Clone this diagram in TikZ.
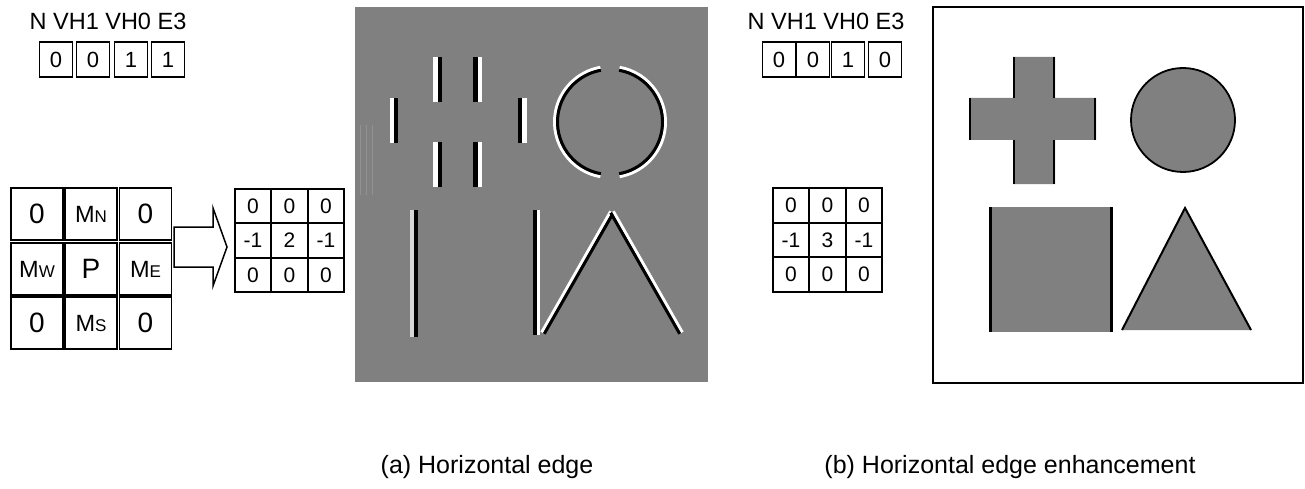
\documentclass[tikz,border=0pt]{standalone}
\usepackage{fontspec}
\setmainfont{Liberation Sans}
\definecolor{imggray}{RGB}{128,128,128}
\definecolor{faintgray}{RGB}{146,146,146}
\definecolor{lightedge}{RGB}{215,215,215}

\begin{document}
\begin{tikzpicture}[x=1pt, y=-1pt, line join=miter,
    flagbox/.style={draw, line width=1.5pt, minimum width=33pt, minimum height=35pt, inner sep=0pt, font=\fontsize{22}{22}\selectfont},
    maskbox/.style={draw, line width=1.5pt, minimum size=52pt, inner sep=0pt, font=\fontsize{28}{28}\selectfont},
    kernbox/.style={draw, line width=1.6pt, minimum width=36.5pt, minimum height=34.5pt, inner sep=0pt, font=\fontsize{21}{21}\selectfont},
    flagtext/.style={inner sep=0pt, anchor=base, font=\fontsize{23.5}{23.5}\selectfont},
    captext/.style={inner sep=0pt, anchor=base, font=\fontsize{25}{25}\selectfont}]
    \useasboundingbox (0,0) rectangle (1305,489);
    \newcommand{\subm}[1]{M{\fontsize{17}{17}\selectfont #1}}

    % flags (a)
    \node[flagtext] (fa) at (108,30) {N VH1 VH0 E3};
    \node[flagbox] (fa1) at (56,59.5) {0};
    \node[flagbox] (fa2) at (93,59.5) {0};
    \node[flagbox] (fa3) at (131,59.5) {1};
    \node[flagbox] (fa4) at (168,59.5) {1};

    % neighbourhood mask
    \node[maskbox] (m00) at (37,214) {0};
    \node[maskbox, font=\fontsize{23.5}{23.5}\selectfont] (m01) at (91,214) {\subm{N}};
    \node[maskbox] (m02) at (145.5,214) {0};
    \node[maskbox, font=\fontsize{23.5}{23.5}\selectfont] (m10) at (37,269) {\subm{W}};
    \node[maskbox] (m11) at (91,269) {P};
    \node[maskbox, font=\fontsize{23.5}{23.5}\selectfont] (m12) at (145.5,269) {\subm{E}};
    \node[maskbox] (m20) at (37,323) {0};
    \node[maskbox, font=\fontsize{23.5}{23.5}\selectfont] (m21) at (91,323) {\subm{S}};
    \node[maskbox] (m22) at (145.5,323) {0};

    % block arrow
    \draw[line width=1.5pt, fill=white] (174,227) -- (213,227) -- (213,208) -- (227,247)
        -- (213,286) -- (213,267) -- (174,267) -- cycle;

    % kernel (a)
    \node[kernbox] (ka00) at (253,206) {0};
    \node[kernbox] (ka01) at (289.5,206) {0};
    \node[kernbox] (ka02) at (326,206) {0};
    \node[kernbox] (ka10) at (253,240.5) {-1};
    \node[kernbox] (ka11) at (289.5,240.5) {2};
    \node[kernbox] (ka12) at (326,240.5) {-1};
    \node[kernbox] (ka20) at (253,275) {0};
    \node[kernbox] (ka21) at (289.5,275) {0};
    \node[kernbox] (ka22) at (326,275) {0};

    % edge image (a)
    \fill[imggray] (355,7) rectangle (708,382);
    \foreach \x in {360,366,372}
        \draw[faintgray, line width=1pt] (\x,125) -- (\x,195);
    \fill[white] (390,98) rectangle (394,143);
    \fill[black] (394,98) rectangle (398,143);
    \foreach \y in {57,142} {
        \fill[white] (433,\y) rectangle (437.5,\y+45);
        \fill[black] (437.5,\y) rectangle (442,\y+45);
        \fill[black] (473,\y) rectangle (477.5,\y+45);
        \fill[white] (477.5,\y) rectangle (482,\y+45);
    }
    \fill[black] (518,98) rectangle (522,143);
    \fill[white] (522,98) rectangle (527,143);
    \fill[lightedge] (410,210) rectangle (414,337);
    \fill[black] (414,210) rectangle (418,337);
    \fill[black] (533,210) rectangle (537,335);
    \fill[white] (537,210) rectangle (540,335);
    \draw[white, line width=3pt] ([shift={(100:55.5)}]610,122) arc (100:260:55.5);
    \draw[black, line width=3pt] ([shift={(100:52.5)}]610,122) arc (100:260:52.5);
    \draw[white, line width=3pt] ([shift={(-80:55.5)}]610,122) arc (-80:80:55.5);
    \draw[black, line width=3pt] ([shift={(-80:52.5)}]610,122) arc (-80:80:52.5);
    \draw[white, line width=3pt] (541.7,332.3) -- (610.7,211.3);
    \draw[black, line width=3pt] (544.3,333.8) -- (613.3,212.8);
    \draw[white, line width=3pt] (613.3,211.3) -- (682.3,332.3);
    \draw[black, line width=3pt] (610.7,212.8) -- (679.7,333.8);

    % flags (b)
    \node[flagtext] (fb) at (826,30) {N VH1 VH0 E3};
    \node[flagbox] (fb1) at (779,59.5) {0};
    \node[flagbox] (fb2) at (813,59.5) {0};
    \node[flagbox] (fb3) at (848,59.5) {1};
    \node[flagbox] (fb4) at (885,59.5) {0};

    % kernel (b)
    \node[kernbox] (kb00) at (791,205.5) {0};
    \node[kernbox] (kb01) at (827.5,205.5) {0};
    \node[kernbox] (kb02) at (864,205.5) {0};
    \node[kernbox] (kb10) at (791,240) {-1};
    \node[kernbox] (kb11) at (827.5,240) {3};
    \node[kernbox] (kb12) at (864,240) {-1};
    \node[kernbox] (kb20) at (791,274.5) {0};
    \node[kernbox] (kb21) at (827.5,274.5) {0};
    \node[kernbox] (kb22) at (864,274.5) {0};

    % enhanced image (b)
    \draw[line width=1.5pt, fill=white] (933,7) rectangle (1303,383);
    \fill[imggray] (1013,57) -- (1055,57) -- (1055,98) -- (1096,98) -- (1096,140) -- (1055,140)
        -- (1055,184) -- (1013,184) -- (1013,140) -- (969,140) -- (969,98) -- (1013,98) -- cycle;
    \draw[line width=2.5pt] (970,98) -- (970,140) (1095,98) -- (1095,140)
        (1014,57) -- (1014,98) (1014,140) -- (1014,184)
        (1054,57) -- (1054,98) (1054,140) -- (1054,184);
    \draw[fill=imggray, line width=1.8pt] (1183,120) circle (52);
    \fill[imggray] (989,207) rectangle (1113,332);
    \draw[line width=3pt] (990.5,207) -- (990.5,332) (1111.5,207) -- (1111.5,332);
    \fill[imggray] (1185,208) -- (1251,330) -- (1122,330) -- cycle;
    \draw[line width=2pt] (1122,330) -- (1185,208) -- (1251,330);

    % captions
    \node[captext] (capa) at (487,473) {(a) Horizontal edge};
    \node[captext] (capb) at (1010,473) {(b) Horizontal edge enhancement};
\end{tikzpicture}
\end{document}
